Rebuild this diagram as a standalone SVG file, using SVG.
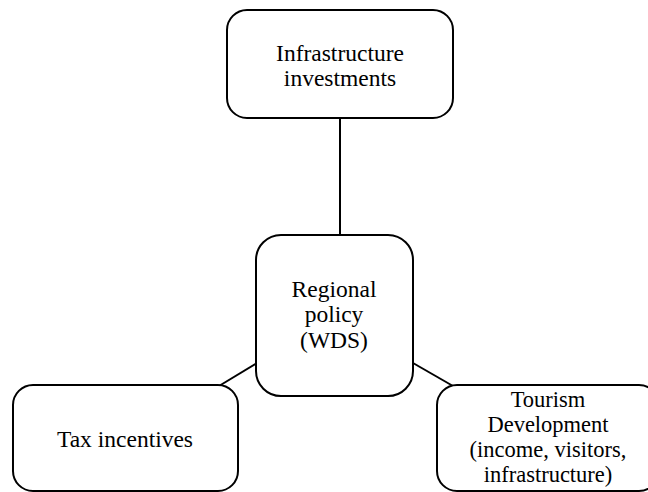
<svg xmlns="http://www.w3.org/2000/svg" width="648" height="492" viewBox="0 0 648 492">
<style>
.box{fill:#fff;stroke:#000;stroke-width:2}
.lbl{font-family:"Liberation Serif","Times New Roman",serif;font-size:23.5px;fill:#000;text-anchor:middle}
.sm{font-size:22.5px}
.conn{stroke:#000;stroke-width:2;fill:none}
</style>
<rect width="648" height="492" fill="#fff"/>
<g id="connectors">
<line class="conn" x1="340" y1="118" x2="340" y2="236"/>
<line class="conn" x1="257" y1="363" x2="219" y2="386"/>
<line class="conn" x1="413" y1="363" x2="453" y2="386"/>
</g>
<g id="infrastructure">
<rect class="box" x="227" y="10" width="226" height="108" rx="20"/>
<text class="lbl" x="340" y="61">Infrastructure</text>
<text class="lbl" x="340" y="86">investments</text>
</g>
<g id="regional">
<rect class="box" x="256" y="235" width="157" height="161" rx="25"/>
<text class="lbl" x="334" y="297">Regional</text>
<text class="lbl" x="334" y="322">policy</text>
<text class="lbl" x="334" y="348">(WDS)</text>
</g>
<g id="tax">
<rect class="box" x="13" y="385" width="225" height="106" rx="20"/>
<text class="lbl" x="125" y="447">Tax incentives</text>
</g>
<g id="tourism">
<rect class="box" x="437" y="385" width="222" height="106" rx="20"/>
<text class="lbl sm" x="548" y="407">Tourism</text>
<text class="lbl sm" x="548" y="432">Development</text>
<text class="lbl sm" x="548" y="457">(income, visitors,</text>
<text class="lbl sm" x="548" y="482">infrastructure)</text>
</g>
</svg>
